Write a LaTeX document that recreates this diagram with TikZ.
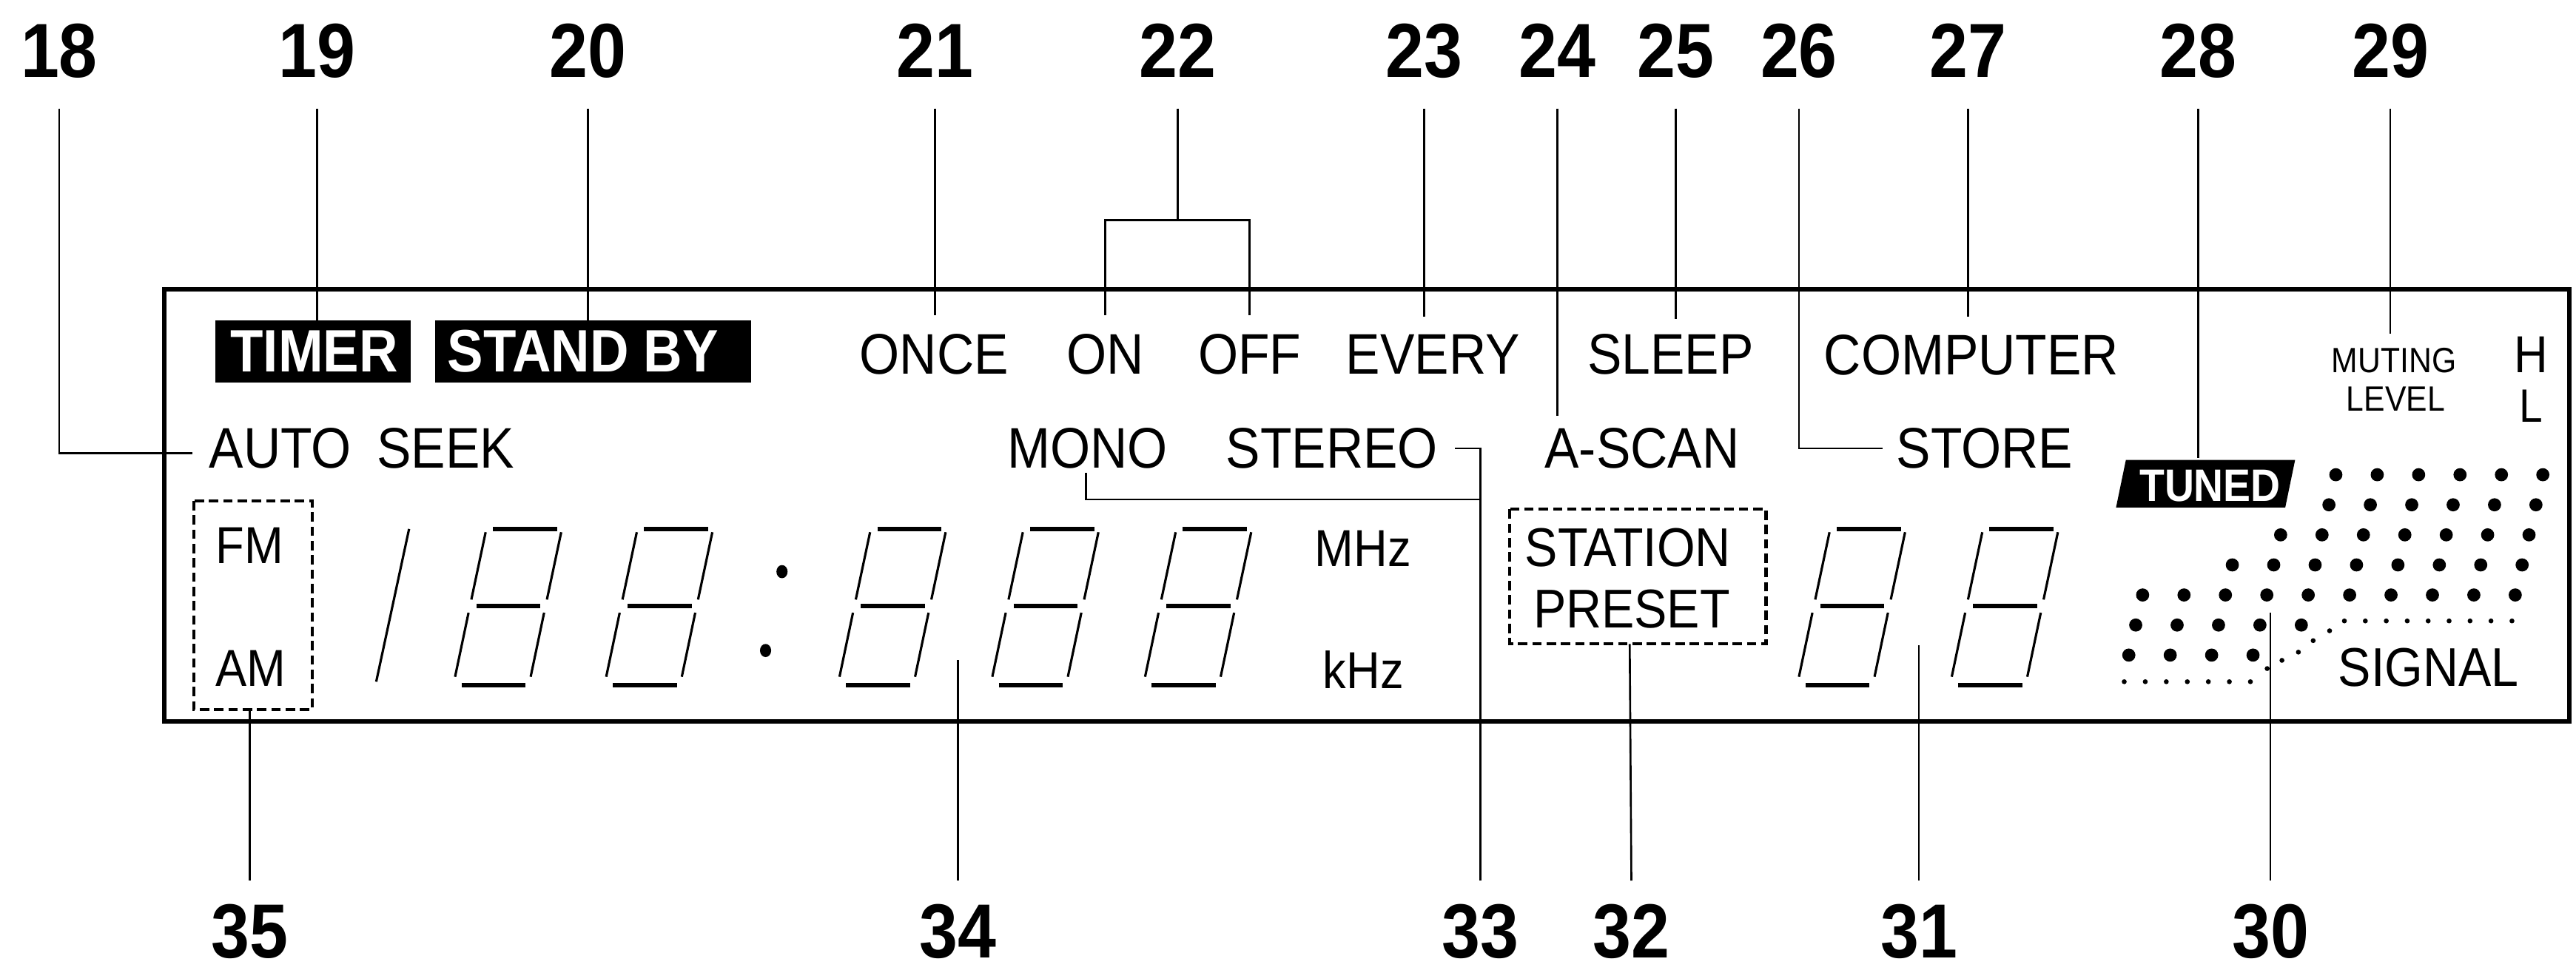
\documentclass[tikz,border=0pt]{standalone}
\usepackage{fontspec}
\usetikzlibrary{calc}
\newfontfamily\lblfont{Liberation Sans}[FakeStretch=0.9]
\newcommand{\fsz}[1]{\fontsize{#1}{#1}\selectfont}
\newcommand{\segdigit}[1]{%
  \begin{scope}[shift={(#1,417)}]
    \draw[bar] (24,-95) -- (63,-95);
    \draw[bar] (14,-48) -- (53,-48);
    \draw[bar] (5,0) -- (44,0);
    \draw[vseg] (19.6,-93) -- (10.9,-52);
    \draw[vseg] (65.6,-93) -- (56.9,-52);
    \draw[vseg] (9.2,-44) -- (1.0,-5);
    \draw[vseg] (55.2,-44) -- (47.0,-5);
  \end{scope}}
\begin{document}
\begin{tikzpicture}[x=0.0222cm,y=-0.0222cm,
  lead/.style={line width=0.75pt},
  framestyle/.style={line width=1.7pt},
  txt/.style={inner sep=0pt, anchor=base west, font={\lblfont\fsz{22}}},
  num/.style={inner sep=0pt, anchor=base, font={\lblfont\bfseries\fsz{29.5}}},
  inv/.style={inner sep=0pt, anchor=base west, text=white, font={\lblfont\bfseries\fsz{23}}},
  dbox/.style={line width=1.2pt, dash pattern=on 3.6pt off 1.9pt},
  bar/.style={line width=1.7pt},
  vseg/.style={line width=0.9pt},
]
\useasboundingbox (0,0) rectangle (1568,592);
\fill[white] (0,0) rectangle (1568,592);

% display frame
\draw[framestyle] (100,176) rectangle (1564,439);

% number labels
\foreach \n/\xx in {18/36,19/193,20/358,21/569,22/717,23/867,24/948,25/1020,26/1095,27/1198,28/1338,29/1455}
  \node[num] (n\n) at (\xx,47) {\n};
\foreach \n/\xx in {35/152,34/583,33/901,32/993,31/1168,30/1382}
  \node[num] (n\n) at (\xx,583) {\n};

% inverse labels
\fill (131,195) rectangle (250,233);
\fill (265,195) rectangle (457,233);
\node[inv] (timer) at (140,226.5) {TIMER};
\node[inv] (standby) at (272,226.5) {STAND BY};
\fill (1294,280) -- (1397,280) -- (1391,309) -- (1288,309) -- cycle;
\node[inv,font={\lblfont\bfseries\fsz{17.5}}] (tuned) at (1302,305) {TUNED};

% plain labels
\node[txt] (once) at (523,227.5) {ONCE};
\node[txt] (on) at (649,227.5) {ON};
\node[txt] (off) at (729,227.5) {OFF};
\node[txt] (every) at (819,227.5) {EVERY};
\node[txt] (sleep) at (966,227.5) {SLEEP};
\node[txt] (computer) at (1110,228) {COMPUTER};
\node[txt,font={\lblfont\fsz{13.5}}] (muting) at (1419,227) {MUTING};
\node[txt,font={\lblfont\fsz{13.5}}] (level) at (1428,250) {LEVEL};
\node[txt,font={\lblfont\fsz{20}}] (hh) at (1530,227) {H};
\node[txt,font={\lblfont\fsz{18}}] (ll) at (1533,257) {L};
\node[txt] (autoseek) at (127,285) {AUTO\hspace{0.45em}SEEK};
\node[txt] (mono) at (613,285) {MONO};
\node[txt] (stereo) at (746,285) {STEREO};
\node[txt] (ascan) at (940,285) {A-SCAN};
\node[txt] (store) at (1154,285) {STORE};
\node[txt,font={\lblfont\fsz{20}}] (fm) at (131,343) {FM};
\node[txt,font={\lblfont\fsz{20}}] (am) at (131,418) {AM};
\node[txt,font={\lblfont\fsz{20}}] (mhz) at (800,345) {MHz};
\node[txt,font={\lblfont\fsz{20}}] (khz) at (805,419) {kHz};
\node[txt,font={\lblfont\fsz{21}}] (station) at (928,345) {STATION};
\node[txt,font={\lblfont\fsz{21}}] (preset) at (933,382) {PRESET};
\node[txt,font={\lblfont\fsz{21}}] (signal) at (1423,418) {SIGNAL};

% dashed boxes
\draw[dbox] (118,305) rectangle (190,432);
\draw[dbox] (919,310) rectangle (1075,392);
\coordinate (fmambot) at (152,432);
\coordinate (presetbot) at (992,392);

% seven-segment digits
\draw[vseg] (249,322) -- (229,415);
\foreach \xx in {276,368,510,603,696,1094,1187} { \segdigit{\xx} }
\fill (476,348) ellipse [x radius=3.4, y radius=4];
\fill (466,396) ellipse [x radius=3.4, y radius=4];

% signal dot matrix
\foreach \r/\cs/\ce in {0/4/9,1/4/9,2/3/9,3/2/9,4/0/9,5/0/4,6/0/3}
  \foreach \c in {\cs,...,\ce}
    \fill ({1321-4.2*\r+25.2*\c},{289+18.3*\r}) circle [radius=4];
\foreach \k in {0,...,6} \fill ({1293+12.8*\k},415) circle [radius=1.5];
\foreach \p in {(1380,407),(1389,402),(1399,397),(1408,390),(1418,384)} \fill \p circle [radius=1.5];
\foreach \k in {0,...,8} \fill ({1427+12.75*\k},378) circle [radius=1.5];

% leader lines (top)
\coordinate (c18) at (36,276);
\draw[lead] ($(n18.base)+(0,19)$) -- (c18) -- ($(autoseek.base west)+(-10,-9)$);
\draw[lead] ($(n19.base)+(0,19)$) -- ($(n19.base)+(0,148)$);
\draw[lead] ($(n20.base)+(0,19)$) -- ($(n20.base)+(0,148)$);
\draw[lead] ($(n21.base)+(0,19)$) -- ($(n21.base)+(0,145)$);
\coordinate (b22l) at (672,134);
\coordinate (b22r) at (757,134);
\draw[lead] ($(n22.base)+(0,19)$) -- ($(n22.base)+(0,87)$);
\draw[lead] ($(on.north)+(0,-11)$) -- (on.north |- b22l) -- (off.north |- b22r) -- ($(off.north)+(0,-11)$);
\draw[lead] ($(n23.base)+(0,19)$) -- ($(n23.base)+(0,146)$);
\draw[lead] ($(n24.base)+(0,19)$) -- ($(n24.base)+(0,206)$);
\draw[lead] ($(n25.base)+(0,19)$) -- ($(n25.base)+(0,147)$);
\coordinate (c26) at (1095,273);
\draw[lead] ($(n26.base)+(0,19)$) -- (c26) -- ($(store.base west)+(-8,-12)$);
\draw[lead] ($(n27.base)+(0,19)$) -- ($(n27.base)+(0,146)$);
\draw[lead] ($(n28.base)+(0,19)$) -- ($(n28.base)+(0,232)$);
\draw[lead] ($(n29.base)+(0,19)$) -- ($(n29.base)+(0,156)$);

% leader lines (bottom)
\draw[lead] (fmambot) -- ($(n35.north)+(0,-14)$);
\coordinate (d34) at (583,402);
\draw[lead] (d34) -- ($(n34.north)+(0,-14)$);
\coordinate (j33) at (901,273);
\coordinate (j33b) at (901,304);
\coordinate (m33) at (661,304);
\draw[lead] ($(stereo.base east)+(10,-12)$) -- (j33) -- ($(n33.north)+(0,-14)$);
\draw[lead] ($(mono.base west)+(48,3)$) -- (m33) -- (j33b);
\draw[lead] (presetbot) -- ($(n32.north)+(0,-14)$);
\coordinate (d31) at (1168,393);
\draw[lead] (d31) -- ($(n31.north)+(0,-14)$);
\coordinate (d30) at (1382,373);
\draw[lead] (d30) -- ($(n30.north)+(0,-14)$);
\end{tikzpicture}
\end{document}
